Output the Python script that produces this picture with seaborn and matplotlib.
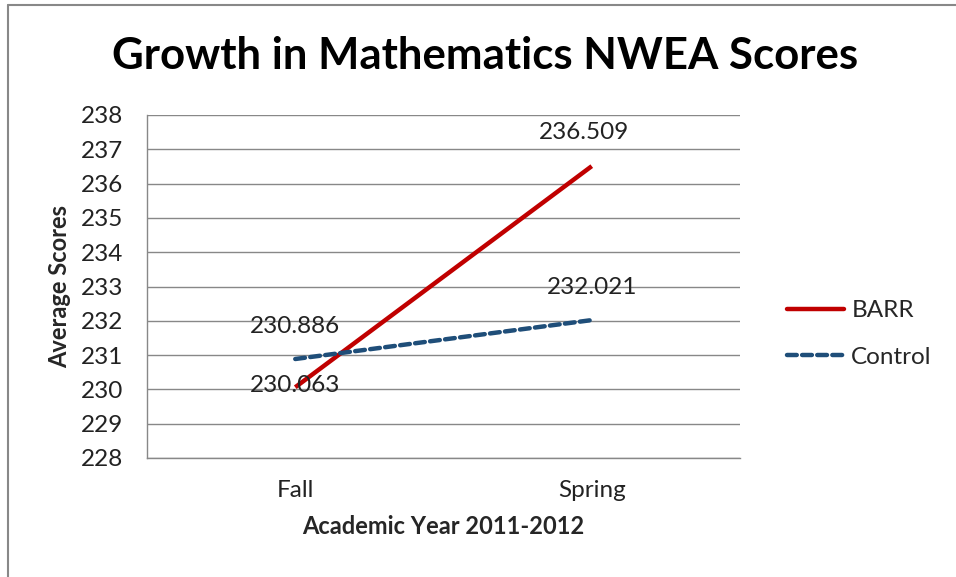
import matplotlib
matplotlib.use("Agg")
import matplotlib.pyplot as plt
import seaborn as sns
import pandas as pd
from matplotlib.lines import Line2D

terms = ["Fall", "Spring"]
barr = [230.063, 236.509]
control = [230.886, 232.021]
series_names = ["BARR", "Control"]
y_ticks = list(range(228, 239))

df = pd.DataFrame({
    "Term": terms * 2,
    "Score": barr + control,
    "Group": [series_names[0]] * 2 + [series_names[1]] * 2,
})
df["x"] = df["Term"].map({t: i for i, t in enumerate(terms)})

sns.set_theme(style="white")
plt.rcParams["font.family"] = ["Lato", "DejaVu Sans"]

W, H = 956, 577
fig = plt.figure(figsize=(W / 100, H / 100), dpi=100)
ax = fig.add_axes([147 / W, (H - 458) / H, (740 - 147) / W, (458 - 115) / H])

palette = {"BARR": "#C00000", "Control": "#1F4E79"}
sns.lineplot(data=df, x="x", y="Score", hue="Group", style="Group",
             palette=palette, dashes={"BARR": "", "Control": (2.2, 1.2)},
             linewidth=3.2, ax=ax, legend=False)
for l in ax.get_lines():
    l.set_dash_capstyle("round")
    l.set_solid_capstyle("butt")

tick_fs = 17.5
ax.set_xlim(-0.5, 1.5)
ax.set_ylim(228, 238)
ax.set_yticks(y_ticks)
ax.set_yticklabels([str(v) for v in y_ticks], fontsize=tick_fs, color="#222222")
ax.set_xticks(range(len(terms)))
ax.set_xticklabels(terms, fontsize=tick_fs, color="#222222")
ax.set_xticks([-0.5, 0.5, 1.5], minor=True)
ax.tick_params(axis="x", which="major", length=0, pad=16)
ax.tick_params(axis="x", which="minor", length=7, color="#888888", width=1, direction="out")
ax.tick_params(axis="y", which="major", length=8, color="#888888", width=1, direction="out", pad=9)
ax.yaxis.grid(True, color="#888888", linewidth=1)
ax.xaxis.grid(False)
for s in ["top", "right"]:
    ax.spines[s].set_visible(False)
for s in ["left", "bottom"]:
    ax.spines[s].set_color("#888888")
    ax.spines[s].set_linewidth(1)

ax.set_ylabel("Average Scores", fontsize=17, fontweight="bold", labelpad=7)
ax.set_xlabel("Academic Year 2011-2012", fontsize=17, fontweight="bold", labelpad=10)

# data labels
offsets = {("BARR", 0): (0, 2), ("BARR", 1): (-8, 34),
           ("Control", 0): (0, 33), ("Control", 1): (0, 33)}
for _, r in df.iterrows():
    dx, dy = offsets[(r["Group"], r["x"])]
    ax.annotate(f"{r['Score']:.3f}", (r["x"], r["Score"]), xytext=(dx * 0.72, dy * 0.72),
                textcoords="offset points", ha="center", va="center",
                fontsize=tick_fs, color="#222222")

fig.text(485 / W, 1 - 56 / H, "Growth in Mathematics NWEA Scores",
         ha="center", va="center", fontsize=31.5, fontweight="bold", color="black")

# legend
handles = [Line2D([], [], color=palette["BARR"], lw=3.2),
           Line2D([], [], color=palette["Control"], lw=3.2, dashes=(2.2, 1.2), dash_capstyle="round")]
fig.legend(handles, series_names, loc="center left", bbox_to_anchor=(765 / W, 1 - 334 / H),
           frameon=False, fontsize=tick_fs, handlelength=2.35, handletextpad=0.3, labelspacing=1.05)

# figure border (top and left)
fig.add_artist(Line2D([8 / W, 8 / W], [0, 1 - 5 / H], transform=fig.transFigure, color="#888888", lw=1.5))
fig.add_artist(Line2D([8 / W, 1], [1 - 5 / H, 1 - 5 / H], transform=fig.transFigure, color="#888888", lw=1.5))

fig.savefig("out.png", dpi=100, facecolor="white")
